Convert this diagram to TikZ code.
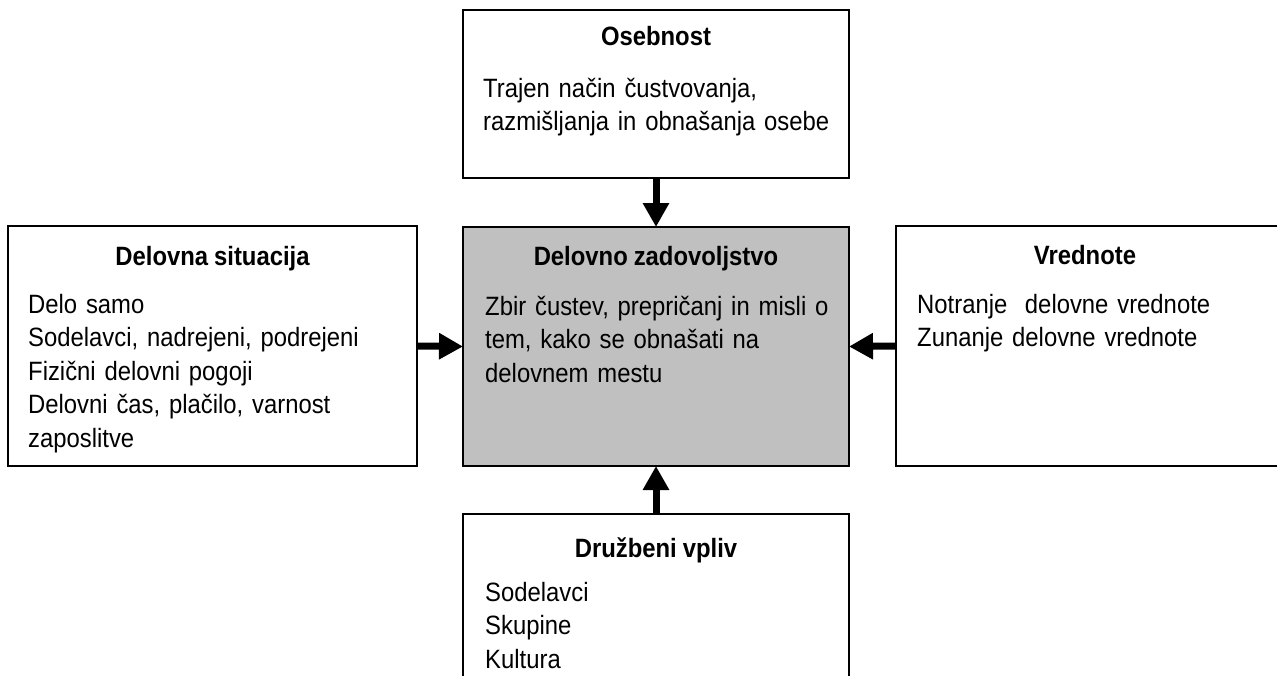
\documentclass[tikz,border=0pt]{standalone}
\usepackage{fontspec}
\setmainfont[FakeStretch=0.9,WordSpace=0.9]{Liberation Sans}
\usetikzlibrary{arrows.meta,calc}

\tikzset{
  box/.style={draw=black, line width=1.6pt, fill=white, anchor=north west,
    inner sep=0pt, outer sep=0pt},
  mainbox/.style={box, fill=boxgray},
  title/.style={anchor=base, inner sep=0pt, font=\fontsize{26.5}{26.5}\selectfont\bfseries},
  body/.style={anchor=base west, inner sep=0pt, align=left, text width=360pt,
    font=\fontsize{26.5}{33.5}\selectfont},
  arr/.style={line width=7pt, -{Triangle[length=24pt,width=25pt]}}
}
\definecolor{boxgray}{HTML}{C0C0C0}

\begin{document}
\begin{tikzpicture}[x=1pt,y=-1pt]
\useasboundingbox (0,0) rectangle (1277,675);
\clip (0,0) rectangle (1277,675);

% boxes
\node[box, minimum width=386pt, minimum height=168pt] (top) at (463,10) {};
\node[mainbox, minimum width=386pt, minimum height=239pt] (center) at (463,227) {};
\node[box, minimum width=409pt, minimum height=240pt] (left) at (8,226) {};
\node[box, minimum width=400pt, minimum height=240pt] (right) at (896,226) {};
\node[box, minimum width=386pt, minimum height=180pt] (bottom) at (463,514) {};

% titles
\node[title] (toptitle) at ($(top.north)+(0,35)$) {Osebnost};
\node[title] (centertitle) at ($(center.north)+(0,38)$) {Delovno zadovoljstvo};
\node[title] (lefttitle) at ($(left.north)+(0,39)$) {Delovna situacija};
\node[title] (righttitle) at ($(right.north west)+(189,38)$) {Vrednote};
\node[title] (bottomtitle) at ($(bottom.north)+(0,43)$) {Družbeni vpliv};

% contents
\node[body] (toptext) at ($(top.north west)+(20,87)$)
  {Trajen način čustvovanja,\\razmišljanja in obnašanja osebe};
\node[body] (centertext) at ($(center.north west)+(22,88)$)
  {Zbir čustev, prepričanj in misli o\\tem, kako se obnašati na\\delovnem mestu};
\node[body] (lefttext) at ($(left.north west)+(20,87)$)
  {Delo samo\\Sodelavci, nadrejeni, podrejeni\\Fizični delovni pogoji\\Delovni čas, plačilo, varnost\\zaposlitve};
\node[body] (righttext) at ($(right.north west)+(21,87)$)
  {Notranje\ \ delovne vrednote\\Zunanje delovne vrednote};
\node[body] (bottomtext) at ($(bottom.north west)+(22,87)$)
  {Sodelavci\\Skupine\\Kultura};

% influences on job satisfaction
\draw[arr] (top.south) -- (center.north);
\draw[arr] (left.east) -- (center.west);
\draw[arr] (right.west) -- (center.east);
\draw[arr] (bottom.north) -- (center.south);
\end{tikzpicture}
\end{document}
